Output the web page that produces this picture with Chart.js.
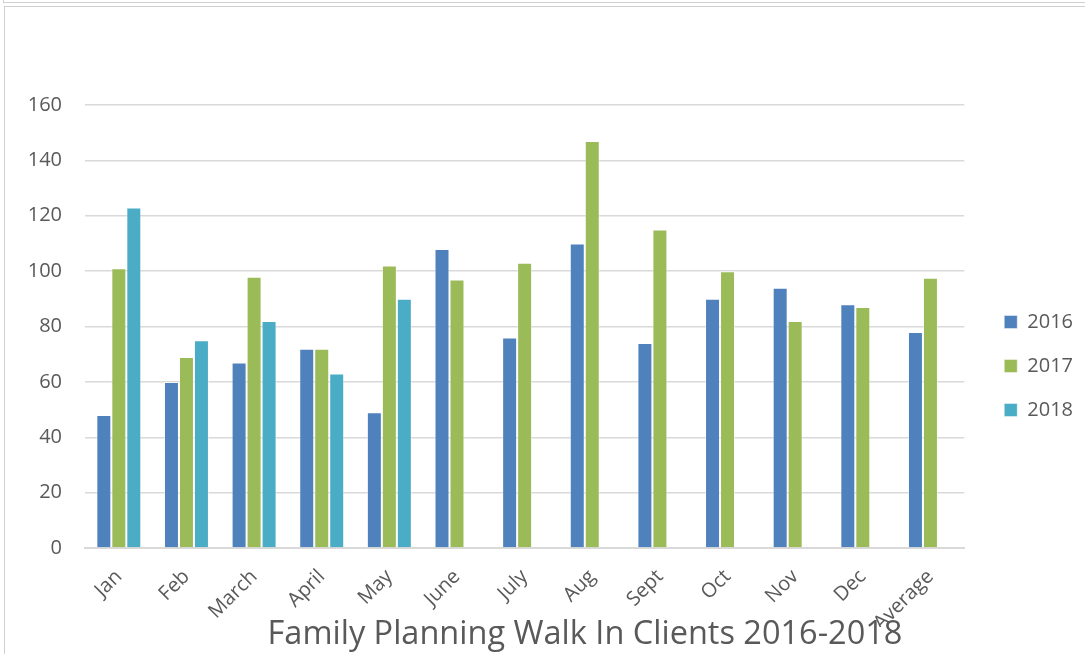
<!DOCTYPE html>
<html>
<head>
<meta charset="utf-8">
<script src="https://cdn.jsdelivr.net/npm/chart.js@4.4.0/dist/chart.umd.min.js"></script>
<style>
  html, body { margin: 0; padding: 0; background: #fff; overflow: hidden; }
  #topbox { position: absolute; left: 3px; top: 0; width: 1082px; height: 2px; border-left: 1px solid #d0d0d0; border-bottom: 1px solid #d0d0d0; }
  #frame { position: absolute; left: 4px; top: 6px; width: 1081px; height: 648px; border-left: 1px solid #d0d0d0; border-top: 1px solid #d0d0d0; }
  #wrap { position: absolute; left: 5px; top: 7px; width: 1080px; height: 647px; }
</style>
</head>
<body>
<div id="topbox"></div>
<div id="frame"></div>
<div id="wrap"><canvas id="fpChart"></canvas></div>
<script>
// ---------- DATA ----------
const months = ['Jan', 'Feb', 'March', 'April', 'May', 'June', 'July', 'Aug', 'Sept', 'Oct', 'Nov', 'Dec', 'Average'];
const clients2016 = [48, 60, 67, 72, 49, 108, 76, 110, 74, 90, 94, 88, 78];
const clients2017 = [101, 69, 98, 72, 102, 97, 103, 147, 115, 100, 82, 87, 97.6];
const clients2018 = [123, 75, 82, 63, 90, null, null, null, null, null, null, null, null];
const yTicks = [0, 20, 40, 60, 80, 100, 120, 140, 160];
const chartTitle = 'Family Planning Walk In Clients 2016-2018';

const grey = '#595959';
const font = '"Open Sans", sans-serif';

// title sits low and a bit right of centre, overlapping the last label like the original
const bottomTitle = {
  id: 'bottomTitle',
  afterDraw(chart) {
    const c = chart.ctx;
    c.save();
    c.font = '32.5px ' + font;
    c.fillStyle = grey;
    c.textAlign = 'center';
    c.textBaseline = 'middle';
    c.fillText(chartTitle, chart.width / 2 + 40, chart.height - 19);
    c.restore();
  }
};

// ---------- CHART ----------
const ctx = document.getElementById('fpChart');

new Chart(ctx, {
  type: 'bar',
  data: {
    labels: months,
    datasets: [
      {
        label: '2016',
        data: clients2016,
        backgroundColor: '#4F81BD',
        borderColor: 'rgba(255,255,255,0.45)',
        borderWidth: 1
      },
      {
        label: '2017',
        data: clients2017,
        backgroundColor: '#9BBB59',
        borderColor: 'rgba(255,255,255,0.45)',
        borderWidth: 1
      },
      {
        label: '2018',
        data: clients2018,
        backgroundColor: '#4BACC6',
        borderColor: 'rgba(255,255,255,0.45)',
        borderWidth: 1
      }
    ]
  },
  options: {
    responsive: true,
    maintainAspectRatio: false,
    animation: false,
    datasets: {
      bar: {
        categoryPercentage: 0.665,
        barPercentage: 1.0
      }
    },
    layout: {
      padding: { top: 98, left: 0, right: 2, bottom: 27 }
    },
    scales: {
      x: {
        grid: { display: false, drawTicks: false },
        border: { display: true, color: '#d9d9d9', width: 2 },
        afterFit: (s) => { s.height = 79; },
        ticks: {
          color: grey,
          font: { family: font, size: 20 },
          minRotation: 45,
          maxRotation: 45,
          padding: 17
        }
      },
      y: {
        min: 0,
        max: 160,
        afterBuildTicks: (axis) => { axis.ticks = yTicks.map(v => ({ value: v })); },
        afterFit: (s) => { s.width = 80; },
        grid: { color: '#d9d9d9', lineWidth: 1.5, drawTicks: false },
        border: { display: false },
        ticks: {
          color: grey,
          font: { family: font, size: 20 },
          padding: 23
        }
      },
      // empty gap between the plot and the legend
      gap: {
        type: 'linear',
        position: 'right',
        display: true,
        grid: { display: false, drawTicks: false },
        border: { display: false },
        ticks: { display: false },
        afterFit: (s) => { s.width = 16; }
      }
    },
    plugins: {
      legend: {
        position: 'right',
        labels: {
          color: grey,
          font: { family: font, size: 20 },
          boxWidth: 13,
          boxHeight: 13,
          padding: 24
        }
      },
      title: { display: false },
      tooltip: { enabled: false }
    }
  },
  plugins: [bottomTitle]
});
</script>
</body>
</html>
